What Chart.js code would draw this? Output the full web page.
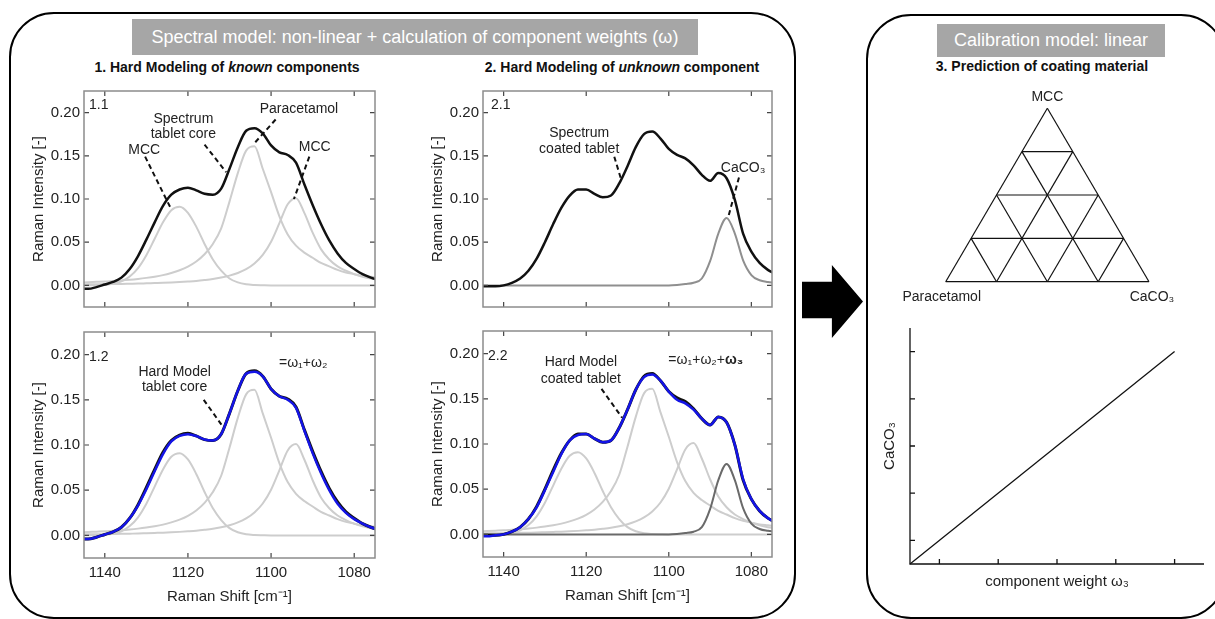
<!DOCTYPE html>
<html>
<head>
<meta charset="utf-8">
<script src="https://cdn.jsdelivr.net/npm/chart.js@4.4.0/dist/chart.umd.min.js"></script>
<style>
  html, body { margin: 0; padding: 0; background: #fff; }
  body { width: 1215px; height: 619px; position: relative; overflow: hidden; font-family: 'Liberation Sans', Arial, sans-serif; }
  .box { position: absolute; border: 2px solid #000; border-radius: 45px; box-sizing: border-box; }
  .head { position: absolute; background: #a6a6a6; color: #fff; font-size: 18px; display: flex; align-items: center; justify-content: center; white-space: nowrap; }
  .sub { position: absolute; font-weight: bold; font-size: 14px; color: #111; white-space: nowrap; transform: translate(-50%, -50%); }
  canvas { position: absolute; }
  #arrow { position: absolute; left: 802px; top: 265px; width: 61px; height: 73px; background: #000;
           clip-path: polygon(0 23%, 49% 23%, 49% 0, 100% 50%, 49% 100%, 49% 73%, 0 73%); }
</style>
</head>
<body>
<div class="box" style="left:9px; top:12px; width:787px; height:607px;"></div>
<div class="box" style="left:866px; top:14px; width:360px; height:605px;"></div>
<div class="head" style="left:132px; top:19px; width:566px; height:36px;">Spectral model: non-linear + calculation of component weights (ω)</div>
<div class="head" style="left:937px; top:24px; width:228px; height:33px;">Calibration model: linear</div>
<div class="sub" style="left:227px; top:67px;">1. Hard Modeling of <i>known</i> components</div>
<div class="sub" style="left:622px; top:67px;">2. Hard Modeling of <i>unknown</i> component</div>
<div class="sub" style="left:1042px; top:66px;">3. Prediction of coating material</div>
<div id="arrow"></div>

<script>
// Raman shift grid [cm-1]
const shift = [1146, 1144, 1142, 1140, 1138, 1136, 1134, 1132, 1130, 1128, 1126, 1124, 1122, 1120, 1118, 1116, 1114, 1112, 1110,
               1108, 1106, 1104, 1102, 1100, 1098, 1096, 1094, 1092, 1090, 1088, 1086, 1084, 1082, 1080, 1078, 1076, 1074];
const shiftTicks = [1140, 1120, 1100, 1080];
const intensityTicks = [0, 0.05, 0.10, 0.15, 0.20];

// measured spectrum of tablet core and its hard model
const coreSpectrum = [-0.004, -0.004, -0.002, 0.001, 0.004, 0.009, 0.019, 0.034, 0.053, 0.073, 0.092, 0.105, 0.111, 0.113, 0.110, 0.106, 0.105, 0.112, 0.135,
                      0.160, 0.179, 0.182, 0.176, 0.162, 0.154, 0.151, 0.142, 0.117, 0.093, 0.071, 0.052, 0.037, 0.026, 0.019, 0.013, 0.009, 0.006];
const coreModel = [-0.004, -0.004, -0.002, 0.001, 0.004, 0.009, 0.019, 0.033, 0.051, 0.071, 0.090, 0.104, 0.110, 0.112, 0.110, 0.106, 0.105, 0.112, 0.135,
                   0.160, 0.179, 0.181, 0.176, 0.162, 0.154, 0.150, 0.141, 0.116, 0.091, 0.069, 0.050, 0.035, 0.025, 0.018, 0.013, 0.009, 0.006];
// component peaks
const mcc1 = [0, 0.0001, 0.0002, 0.0006, 0.0018, 0.0046, 0.0103, 0.020, 0.035, 0.054, 0.073, 0.087, 0.091, 0.084, 0.068, 0.048, 0.030, 0.017, 0.008,
              0.0035, 0.0013, 0.0005, 0.0002, 0, 0, 0, 0, 0, 0, 0, 0, 0, 0, 0, 0, 0, 0];
const paracetamol = [0.0033, 0.0037, 0.0041, 0.0045, 0.0051, 0.0057, 0.0065, 0.0075, 0.0087, 0.0101, 0.0119, 0.0144, 0.0175, 0.0217, 0.0276, 0.036, 0.048, 0.066, 0.097,
                     0.130, 0.156, 0.161, 0.135, 0.108, 0.080, 0.059, 0.046, 0.038, 0.032, 0.026, 0.022, 0.018, 0.015, 0.013, 0.011, 0.010, 0.009];
const mcc2 = [0.0011, 0.0012, 0.0013, 0.0015, 0.0016, 0.0017, 0.0019, 0.0021, 0.0024, 0.0027, 0.0030, 0.0034, 0.0039, 0.0045, 0.0052, 0.0062, 0.0074, 0.0091, 0.0113,
              0.0144, 0.0188, 0.0254, 0.0353, 0.0505, 0.072, 0.094, 0.101, 0.084, 0.061, 0.042, 0.030, 0.022, 0.017, 0.013, 0.010, 0.008, 0.007];
// coated tablet
const coatedSpectrum = [-0.001, -0.001, -0.001, 0.000, 0.003, 0.008, 0.017, 0.031, 0.050, 0.071, 0.090, 0.104, 0.111, 0.111, 0.106, 0.102, 0.104, 0.118, 0.138,
                        0.160, 0.175, 0.178, 0.170, 0.158, 0.151, 0.147, 0.139, 0.128, 0.121, 0.130, 0.124, 0.099, 0.060, 0.039, 0.026, 0.018, 0.013];
const coatedModel = [-0.002, -0.002, -0.001, 0.000, 0.003, 0.008, 0.017, 0.030, 0.049, 0.069, 0.089, 0.104, 0.110, 0.111, 0.106, 0.102, 0.104, 0.118, 0.138,
                     0.160, 0.174, 0.177, 0.170, 0.158, 0.149, 0.145, 0.138, 0.128, 0.121, 0.130, 0.124, 0.099, 0.061, 0.039, 0.026, 0.018, 0.013];
const caco3 = [0, 0, 0, 0, 0, 0, 0, 0, 0, 0, 0, 0, 0, 0, 0, 0, 0, 0, 0,
               0, 0, 0, 0, 0, 0.0005, 0.0015, 0.003, 0.008, 0.028, 0.060, 0.078, 0.060, 0.029, 0.012, 0.006, 0.004, 0.003];

// calibration line and ternary grid
const calWeight = [0, 4.5];
const calCaco3 = [0, 4.5];
const calTicks = [0.5, 1.5, 2.5, 3.5, 4.5];
const ternaryLevels = [0, 0.25, 0.5, 0.75];
const ternaryNames = ['MCC', 'Paracetamol', 'CaCO₃'];

const FONT = "'Liberation Sans', Arial, sans-serif";
Chart.defaults.font.family = FONT;
Chart.defaults.color = '#222';

const LIGHT = '#cdcdcd', BLACK = '#111', BLUE = '#1414e6';

function addCanvas(left, top, w, h) {
    const c = document.createElement('canvas');
    c.width = w; c.height = h;
    c.style.left = left + 'px';
    c.style.top = top + 'px';
    document.body.appendChild(c);
    return c;
}

// frame, inward ticks and annotations of a spectrum panel
function framePlugin(n) {
    return {
        id: 'frame',
        afterDatasetsDraw(chart) {
            const { ctx, chartArea: a, scales: { x, y } } = chart;
            ctx.save();
            ctx.strokeStyle = '#444';
            ctx.lineWidth = 1.2;
            ctx.beginPath();
            x.ticks.forEach(t => {
                const p = x.getPixelForValue(t.value);
                ctx.moveTo(p, a.top); ctx.lineTo(p, a.top + 5);
                ctx.moveTo(p, a.bottom); ctx.lineTo(p, a.bottom - 5);
            });
            y.ticks.forEach(t => {
                const p = y.getPixelForValue(t.value);
                ctx.moveTo(a.left, p); ctx.lineTo(a.left + 5, p);
                ctx.moveTo(a.right, p); ctx.lineTo(a.right - 5, p);
            });
            ctx.stroke();
            ctx.strokeStyle = '#8c8c8c';
            ctx.lineWidth = 1.5;
            ctx.strokeRect(a.left, a.top, a.right - a.left, a.bottom - a.top);

            // dashed leader lines
            ctx.setLineDash([5, 3.5]);
            ctx.strokeStyle = BLACK;
            ctx.lineWidth = 2;
            n.leaders.forEach(([x1, y1, x2, y2]) => {
                ctx.beginPath();
                ctx.moveTo(x.getPixelForValue(x1), y.getPixelForValue(y1));
                ctx.lineTo(x.getPixelForValue(x2), y.getPixelForValue(y2));
                ctx.stroke();
            });
            ctx.setLineDash([]);

            ctx.fillStyle = '#222';
            ctx.font = '14px ' + FONT;
            ctx.textAlign = 'center';
            ctx.textBaseline = 'middle';
            n.texts.forEach(([s, xv, yv]) => ctx.fillText(s, x.getPixelForValue(xv), y.getPixelForValue(yv)));

            ctx.textAlign = 'left';
            ctx.fillText(n.panel, a.left + n.panelDx, y.getPixelForValue(n.panelY));

            if (n.formula) {
                let px = x.getPixelForValue(n.formula.x);
                const py = y.getPixelForValue(n.formula.y);
                n.formula.parts.forEach(([s, bold]) => {
                    ctx.font = (bold ? 'bold ' : '') + '14px ' + FONT;
                    ctx.fillText(s, px, py);
                    px += ctx.measureText(s).width;
                });
            }
            ctx.restore();
        }
    };
}

function spectrumChart(area, xLabels, series, notes) {
    const yw = 58, pad = 6, xh = xLabels ? 52 : 3;
    const [L, T, R, B] = area;
    const c = addCanvas(L - yw, T - pad, R - L + yw + pad, B - T + pad + xh);
    new Chart(c, {
        type: 'line',
        data: {
            datasets: series.map(s => ({
                data: shift.map((v, i) => ({ x: v, y: s.values[i] })),
                borderColor: s.color,
                borderWidth: s.width,
                pointRadius: 0,
                cubicInterpolationMode: 'monotone',
                fill: false,
                clip: 0
            }))
        },
        options: {
            responsive: false,
            animation: false,
            devicePixelRatio: 1,
            layout: { padding: { top: pad, right: pad, left: 0, bottom: 0 } },
            plugins: { legend: { display: false }, tooltip: { enabled: false } },
            scales: {
                x: {
                    type: 'linear', reverse: true, min: 1075, max: 1145,
                    afterBuildTicks: s => { s.ticks = shiftTicks.map(v => ({ value: v })); },
                    afterFit: s => { s.height = xh; },
                    grid: { display: false, drawTicks: false },
                    border: { display: false },
                    ticks: { display: xLabels, padding: 6, color: '#222', font: { size: 15 }, callback: v => v },
                    title: { display: xLabels, text: 'Raman Shift [cm⁻¹]', color: '#222', font: { size: 15 } }
                },
                y: {
                    type: 'linear', min: -0.025, max: 0.225,
                    afterBuildTicks: s => { s.ticks = intensityTicks.map(v => ({ value: v })); },
                    afterFit: s => { s.width = yw; },
                    grid: { display: false, drawTicks: false },
                    border: { display: false },
                    ticks: { padding: 4, color: '#222', font: { size: 15 }, callback: v => v.toFixed(2) },
                    title: { display: true, text: 'Raman Intensity [-]', color: '#222', font: { size: 15 } }
                }
            }
        },
        plugins: [framePlugin(notes)]
    });
}

// 1.1
spectrumChart([84, 84, 375, 317], false, [
    { values: coreSpectrum, color: BLACK, width: 2.5 },
    { values: mcc1, color: LIGHT, width: 2 },
    { values: paracetamol, color: LIGHT, width: 2 },
    { values: mcc2, color: LIGHT, width: 2 }
], {
    panel: '1.1', panelDx: 5, panelY: 0.209,
    texts: [['MCC', 1130.5, 0.156], ['Spectrum', 1121.1, 0.192], ['tablet core', 1121.1, 0.1745],
            ['Paracetamol', 1093.3, 0.204], ['MCC', 1089.5, 0.1595]],
    leaders: [[1130.3, 0.149, 1124.0, 0.088], [1116.0, 0.163, 1110.8, 0.131],
              [1098.9, 0.192, 1104.3, 0.163], [1090.8, 0.149, 1094.5, 0.100]]
});

// 1.2
spectrumChart([84, 325, 375, 558], true, [
    { values: coreModel, color: BLUE, width: 2.5 },
    { values: coreSpectrum, color: BLACK, width: 3 },
    { values: mcc1, color: LIGHT, width: 2 },
    { values: paracetamol, color: LIGHT, width: 2 },
    { values: mcc2, color: LIGHT, width: 2 }
], {
    panel: '1.2', panelDx: 5, panelY: 0.197,
    texts: [['Hard Model', 1123.2, 0.181], ['tablet core', 1123.2, 0.164]],
    leaders: [[1116.2, 0.150, 1111.7, 0.121]],
    formula: { x: 1098.1, y: 0.191, parts: [['=ω₁+ω₂', false]] }
});

// 2.1
spectrumChart([483, 84, 772, 317], false, [
    { values: coatedSpectrum, color: BLACK, width: 2.5 },
    { values: caco3, color: '#8f8f8f', width: 2 }
], {
    panel: '2.1', panelDx: 8, panelY: 0.209,
    texts: [['Spectrum', 1121.7, 0.176], ['coated tablet', 1121.7, 0.158], ['CaCO₃', 1082.0, 0.136]],
    leaders: [[1113.2, 0.149, 1111.5, 0.122], [1083.0, 0.125, 1085.6, 0.079]]
});

// 2.2
spectrumChart([483, 324, 772, 557], true, [
    { values: coatedModel, color: BLUE, width: 2.5 },
    { values: coatedSpectrum, color: BLACK, width: 3 },
    { values: caco3, color: '#6a6a6a', width: 2 },
    { values: mcc1, color: LIGHT, width: 2 },
    { values: paracetamol, color: LIGHT, width: 2 },
    { values: mcc2, color: LIGHT, width: 2 }
], {
    panel: '2.2', panelDx: 5, panelY: 0.197,
    texts: [['Hard Model', 1121.3, 0.190], ['coated tablet', 1121.3, 0.172]],
    leaders: [[1116.3, 0.161, 1111.3, 0.129]],
    formula: { x: 1100.1, y: 0.193, parts: [['=ω₁+ω₂+', false], ['ω₃', true]] }
});

// ternary diagram: Paracetamol (0,0), CaCO3 (1,0), MCC at the apex
const H = Math.sqrt(3) / 2;
function ternaryPoint(mcc, caco) { return { x: caco + mcc / 2, y: mcc * H }; }
const ternaryLines = [];
ternaryLevels.forEach(k => {
    ternaryLines.push([ternaryPoint(k, 0), ternaryPoint(k, 1 - k)]);          // constant MCC
    ternaryLines.push([ternaryPoint(0, k), ternaryPoint(1 - k, k)]);          // constant CaCO3
    ternaryLines.push([ternaryPoint(0, 1 - k), ternaryPoint(1 - k, 0)]);      // constant Paracetamol
});

const ternaryLabels = {
    id: 'ternaryLabels',
    afterDatasetsDraw(chart) {
        const { ctx, scales: { x, y } } = chart;
        ctx.save();
        ctx.fillStyle = '#222';
        ctx.font = '14px ' + FONT;
        ctx.textAlign = 'center';
        ctx.textBaseline = 'middle';
        ctx.fillText(ternaryNames[0], x.getPixelForValue(0.5), y.getPixelForValue(H) - 11);
        ctx.fillText(ternaryNames[1], x.getPixelForValue(0) - 4, y.getPixelForValue(0) + 15);
        ctx.fillText(ternaryNames[2], x.getPixelForValue(1) + 3, y.getPixelForValue(0) + 15);
        ctx.restore();
    }
};

new Chart(addCanvas(895, 85, 300, 225), {
    type: 'scatter',
    data: {
        datasets: ternaryLines.map(seg => ({
            data: seg, showLine: true, borderColor: BLACK, borderWidth: 1.2, pointRadius: 0, clip: false
        }))
    },
    options: {
        responsive: false, animation: false, devicePixelRatio: 1,
        layout: { padding: { left: 50.7, right: 46, top: 23.3, bottom: 28.3 } },
        plugins: { legend: { display: false }, tooltip: { enabled: false } },
        scales: {
            x: { display: false, min: 0, max: 1 },
            y: { display: false, min: 0, max: H }
        }
    },
    plugins: [ternaryLabels]
});

// calibration plot
const calAxes = {
    id: 'calAxes',
    afterDatasetsDraw(chart) {
        const { ctx, chartArea: a, scales: { x, y } } = chart;
        ctx.save();
        ctx.strokeStyle = BLACK;
        ctx.lineWidth = 1.3;
        ctx.beginPath();
        ctx.moveTo(a.left, a.top); ctx.lineTo(a.left, a.bottom); ctx.lineTo(a.right, a.bottom);
        x.ticks.forEach(t => { const p = x.getPixelForValue(t.value); ctx.moveTo(p, a.bottom); ctx.lineTo(p, a.bottom - 5); });
        y.ticks.forEach(t => { const p = y.getPixelForValue(t.value); ctx.moveTo(a.left, p); ctx.lineTo(a.left + 5, p); });
        ctx.stroke();
        ctx.restore();
    }
};

new Chart(addCanvas(877, 320, 332, 275), {
    type: 'line',
    data: {
        datasets: [{
            data: calWeight.map((v, i) => ({ x: v, y: calCaco3[i] })),
            borderColor: BLACK, borderWidth: 1.3, pointRadius: 0, clip: false
        }]
    },
    options: {
        responsive: false, animation: false, devicePixelRatio: 1,
        layout: { padding: { top: 8, right: 5, left: 0, bottom: 0 } },
        plugins: { legend: { display: false }, tooltip: { enabled: false } },
        scales: {
            x: {
                type: 'linear', min: 0, max: 5,
                afterBuildTicks: s => { s.ticks = calTicks.map(v => ({ value: v })); },
                afterFit: s => { s.height = 31; },
                grid: { display: false, drawTicks: false }, border: { display: false },
                ticks: { display: false },
                title: { display: true, text: 'component weight ω₃', color: '#222', font: { size: 15 } }
            },
            y: {
                type: 'linear', min: 0, max: 5,
                afterBuildTicks: s => { s.ticks = calTicks.map(v => ({ value: v })); },
                afterFit: s => { s.width = 33; },
                grid: { display: false, drawTicks: false }, border: { display: false },
                ticks: { display: false },
                title: { display: true, text: 'CaCO₃', color: '#222', font: { size: 15 } }
            }
        }
    },
    plugins: [calAxes]
});
</script>
</body>
</html>
